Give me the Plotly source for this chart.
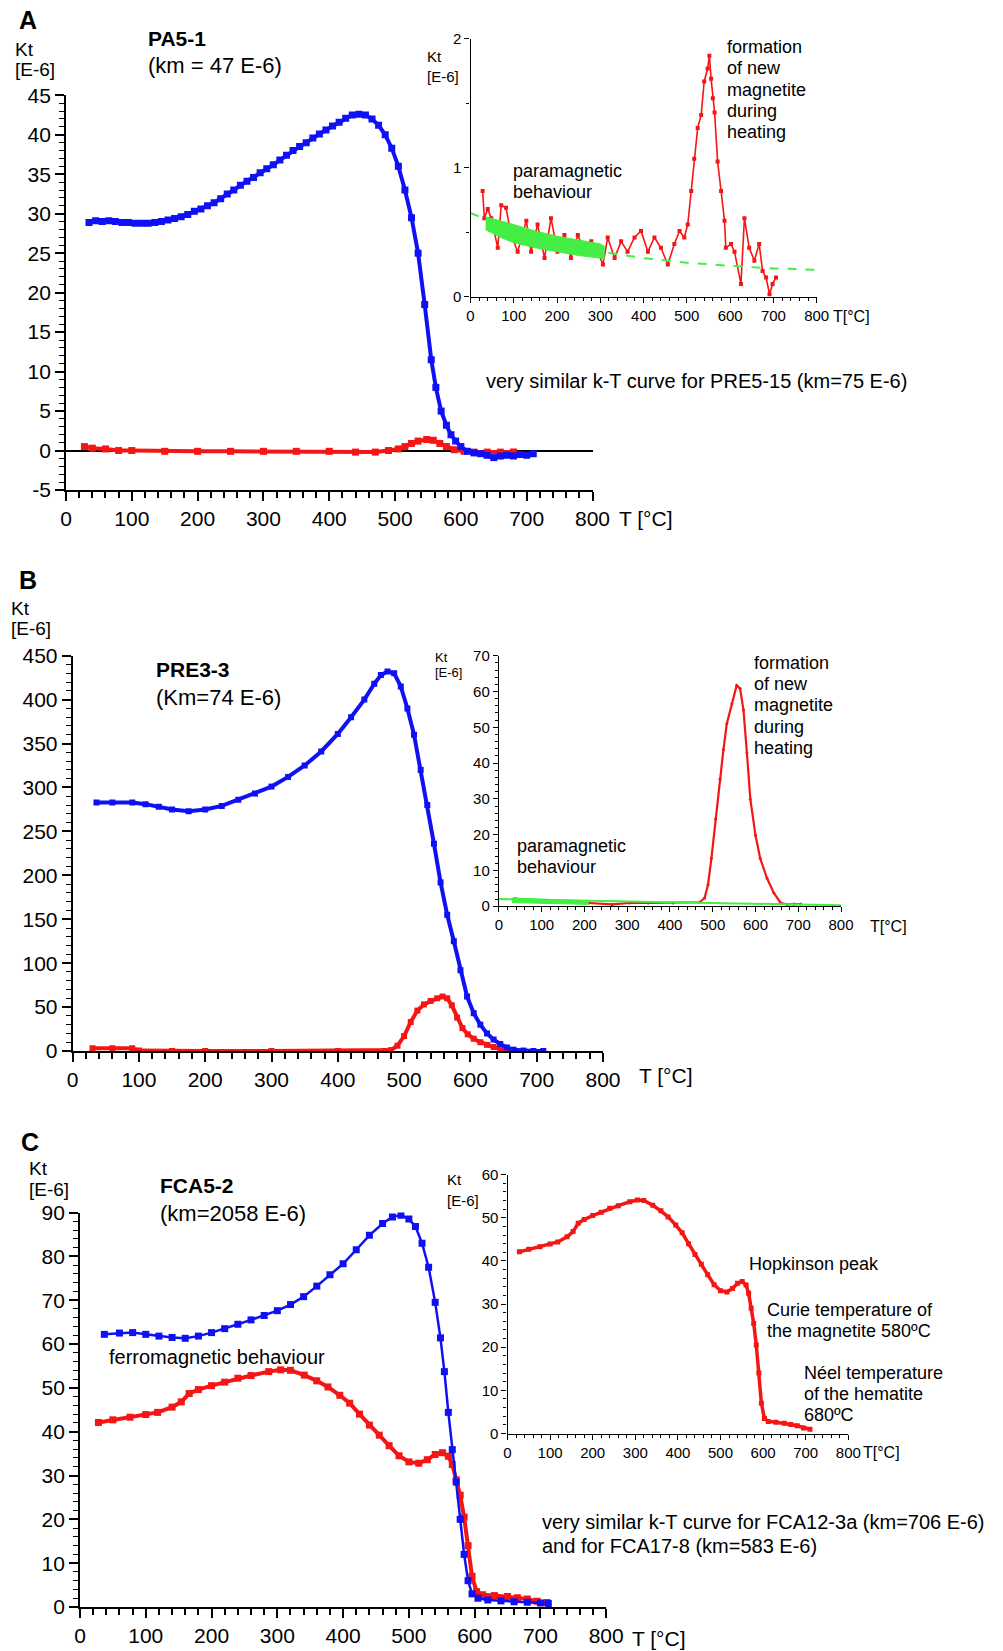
import plotly.graph_objects as go

W, H = 1003, 1651
FONT = "Liberation Sans, Arial, sans-serif"
BLUE = "#1010f5"
RED = "#f51515"
GREEN = "#44ee44"

# ---------------- Panel A (PA5-1) ----------------
A_blue_T = [35, 45, 55, 65, 75, 85, 95, 105, 115, 125, 135, 145, 155, 165, 175, 185, 195, 205, 215, 225,
            235, 245, 255, 265, 275, 285, 295, 305, 315, 325, 335, 345, 355, 365, 375, 385, 395, 405, 415,
            425, 435, 445, 455, 465, 475, 485, 495, 505, 515, 525, 535, 545, 555, 562, 570, 578, 585, 592,
            600, 610, 620, 630, 640, 650, 660, 670, 680, 690, 700, 710]
A_blue_K = [28.9, 29.1, 29.0, 29.1, 29.0, 28.9, 28.9, 28.8, 28.8, 28.8, 28.9, 29.0, 29.2, 29.4, 29.6, 29.9,
            30.3, 30.6, 31.0, 31.4, 31.9, 32.5, 33.0, 33.6, 34.1, 34.6, 35.2, 35.7, 36.2, 36.8, 37.4, 38.0,
            38.5, 39.0, 39.6, 40.1, 40.6, 41.1, 41.6, 42.1, 42.5, 42.6, 42.5, 42.0, 41.2, 40.0, 38.3, 36.0,
            33.0, 29.5, 25.0, 18.5, 11.5, 8.0, 5.0, 3.2, 2.0, 1.2, 0.5, -0.1, -0.3, -0.4, -0.6, -0.9, -0.7,
            -0.6, -0.7, -0.5, -0.6, -0.4]
A_red_T = [28, 40, 60, 80, 100, 150, 200, 250, 300, 350, 400, 440, 470, 490, 505, 515, 525, 535, 548,
           558, 568, 578, 590, 605, 620, 640, 660, 680]
A_red_K = [0.5, 0.3, 0.2, 0.0, 0.0, -0.1, -0.1, -0.1, -0.1, -0.1, -0.1, -0.2, -0.2, 0.0, 0.2, 0.5, 0.9,
           1.2, 1.4, 1.3, 0.9, 0.5, 0.1, -0.1, -0.2, -0.2, -0.2, -0.2]
A_yticks = [-5, 0, 5, 10, 15, 20, 25, 30, 35, 40, 45]
A_yticklabels = ["-5", "0", "5", "10", "15", "20", "25", "30", "35", "40", "45"]

# inset A
Ai_red_T = [28, 32, 40, 48, 63, 71, 82, 94, 109, 129, 140, 155, 171, 186, 201, 217, 232, 248, 263, 279,
            294, 306, 317, 333, 348, 363, 379, 394, 410, 425, 440, 456, 471, 483, 494, 502, 510, 517, 525,
            533, 540, 548, 552, 556, 560, 564, 571, 579, 587, 590, 602, 610, 625, 633, 644, 656, 667, 675,
            683, 691, 698, 706]
Ai_red_K = [0.82, 0.61, 0.68, 0.61, 0.38, 0.71, 0.69, 0.48, 0.35, 0.59, 0.35, 0.56, 0.30, 0.61, 0.35, 0.48,
            0.30, 0.48, 0.35, 0.43, 0.35, 0.25, 0.46, 0.30, 0.43, 0.35, 0.46, 0.51, 0.35, 0.46, 0.38, 0.25,
            0.41, 0.51, 0.46, 0.56, 0.82, 1.07, 1.31, 1.41, 1.67, 1.77, 1.87, 1.69, 1.54, 1.43, 1.05, 0.82,
            0.59, 0.38, 0.41, 0.35, 0.10, 0.61, 0.38, 0.28, 0.41, 0.20, 0.15, 0.02, 0.10, 0.15]
Ai_fit_T = [0, 100, 200, 300, 400, 500, 600, 700, 800]
Ai_fit_K = [0.65, 0.51, 0.42, 0.35, 0.30, 0.265, 0.24, 0.22, 0.21]
Ai_band_T = [35, 70, 100, 150, 200, 250, 300, 310]
Ai_band_hi = [0.62, 0.59, 0.56, 0.51, 0.47, 0.44, 0.41, 0.39]
Ai_band_lo = [0.52, 0.46, 0.42, 0.38, 0.35, 0.32, 0.30, 0.29]

# ---------------- Panel B (PRE3-3) ----------------
B_blue_T = [36, 60, 90, 110, 130, 150, 175, 200, 225, 250, 275, 300, 325, 350, 375, 400, 420, 440, 455,
            465, 475, 485, 495, 505, 515, 525, 535, 545, 555, 565, 575, 585, 595, 605, 615, 625, 635, 645,
            655, 665, 680, 695, 710]
B_blue_K = [283, 283, 283, 281, 278, 275, 273, 275, 279, 286, 293, 301, 312, 325, 341, 361, 380, 400, 418,
            428, 432, 430, 415, 390, 360, 320, 280, 236, 192, 155, 125, 92, 62, 43, 30, 20, 13, 8, 4, 1.5,
            0.5, 0, 0]
B_red_T = [30, 60, 90, 100, 150, 200, 300, 400, 470, 480, 490, 500, 510, 520, 530, 540, 550, 558, 565,
           572, 580, 588, 596, 605, 615, 625, 635, 645, 655]
B_red_K = [3, 3, 3, 0.5, 0, 0, 0, 0, 0, 1, 6, 17, 33, 46, 53, 57, 60, 62, 60, 52, 38, 26, 19, 14, 10, 7,
           4.5, 2, 0.5]

# inset B
Bi_red_T = [37, 92, 150, 210, 265, 305, 350, 407, 470, 481, 489, 497, 507, 517, 525, 533, 545, 556, 564,
            572, 580, 588, 600, 611, 627, 643, 659, 674, 690, 706]
Bi_red_K = [2.1, 1.4, 1.1, 0.9, 0.5, 0.9, 0.9, 0.9, 1.1, 2.3, 6.0, 13.4, 24.4, 35.5, 43.7, 51.0, 56.6,
            61.7, 60.8, 54.8, 42.8, 29.9, 19.8, 13.4, 7.8, 3.7, 0.9, 0.5, 0.6, 0.6]
Bi_fit_T = [0, 800]
Bi_fit_K = [2.0, 0.25]
Bi_band_T = [30, 100, 150, 210]
Bi_band_hi = [2.3, 2.0, 1.8, 1.5]
Bi_band_lo = [1.0, 0.8, 0.6, 0.5]

# ---------------- Panel C (FCA5-2) ----------------
C_blue_T = [37, 60, 80, 100, 120, 140, 160, 180, 200, 220, 240, 260, 280, 300, 320, 340, 360, 380, 400,
            420, 440, 460, 475, 488, 500, 510, 520, 530, 540, 548, 554, 560, 566, 572, 578, 584, 590, 596,
            605, 620, 640, 660, 680, 700, 712]
C_blue_K = [62.2, 62.5, 62.6, 62.2, 61.8, 61.5, 61.3, 61.8, 62.6, 63.5, 64.5, 65.5, 66.5, 67.6, 69.0,
            70.8, 73.2, 75.8, 78.3, 81.5, 84.8, 87.5, 89.0, 89.4, 88.5, 86.8, 83.0, 77.5, 69.5, 61.4, 53.7,
            44.4, 35.9, 28.5, 20.0, 12.0, 6.0, 3.0, 2.0, 1.6, 1.4, 1.2, 1.1, 0.9, 0.8]
C_red_T = [28, 50, 76, 100, 118, 140, 154, 166, 180, 200, 220, 240, 260, 287, 305, 320, 341, 360, 377,
           395, 410, 425, 440, 455, 470, 485, 500, 515, 528, 540, 551, 560, 566, 572, 578, 584, 590, 596,
           603, 612, 630, 650, 665, 680, 695, 710]
C_red_K = [42.1, 42.7, 43.3, 43.9, 44.4, 45.6, 46.8, 48.7, 49.6, 50.5, 51.3, 52.2, 52.8, 53.7, 54.1, 54.0,
           52.9, 51.6, 50.2, 48.3, 46.5, 44.0, 41.5, 39.2, 36.8, 34.5, 33.1, 32.8, 33.6, 34.8, 35.2, 34.4,
           32.5, 29.0, 25.5, 20.5, 14.0, 7.0, 3.5, 2.8, 2.6, 2.4, 2.1, 1.8, 1.3, 1.0]

X_TICKS = [0, 100, 200, 300, 400, 500, 600, 700, 800]


def px(x):
    return x / W


def py(y):
    return 1 - y / H


fig = go.Figure()


def axis_pair(n, xdom, ydom, yrange, ydtick, yminor, fs, main):
    sx = "" if n == 1 else str(n)
    lw = 1.8 if main else 1.3
    common = dict(showline=True, linecolor="black", linewidth=lw, ticks="outside", tickcolor="black",
                  tickwidth=lw, showgrid=False, zeroline=False, automargin=False,
                  tickfont=dict(family=FONT, size=fs, color="black"))
    fig.layout["xaxis" + sx] = dict(domain=xdom, range=[0, 800], tickvals=X_TICKS, ticklen=9 if main else 5,
                                    anchor="y" + sx,
                                    minor=dict(dtick=20, ticklen=6 if main else 3, ticks="outside",
                                               tickcolor="black", tickwidth=lw),
                                    **common)
    fig.layout["yaxis" + sx] = dict(domain=ydom, range=yrange, dtick=ydtick, tick0=0,
                                    ticklen=9 if main else 5, anchor="x" + sx,
                                    minor=dict(dtick=yminor, ticklen=5 if main else 3, ticks="outside",
                                               tickcolor="black", tickwidth=lw * 0.8),
                                    **common)


# domains (pixel positions)
axis_pair(1, [px(66), px(592.5)], [py(490), py(95.3)], [-5, 45], 5, 1, 21, True)
axis_pair(2, [px(470.5), px(816.7)], [py(296.8), py(38.9)], [0, 2], 1, 0.5, 15, False)
axis_pair(3, [px(72.6), px(603)], [py(1051), py(655.7)], [0, 450], 50, 10, 21, True)
axis_pair(4, [px(498.9), px(841)], [py(906.2), py(655.7)], [0, 70], 10, 2, 15, False)
axis_pair(5, [px(80), px(606.2)], [py(1607), py(1212.5)], [0, 90], 10, 2, 21, True)
axis_pair(6, [px(507.5), px(848.3)], [py(1433.5), py(1174.6)], [0, 60], 10, 2, 15, False)

fig.layout.yaxis.update(zeroline=True, zerolinecolor="black", zerolinewidth=1.5,
                        tickvals=A_yticks, ticktext=A_yticklabels)


def curve(x, y, color, ax, lw=4, ms=7, symbol="square"):
    sx = "" if ax == 1 else str(ax)
    fig.add_trace(go.Scatter(x=x, y=y, mode="lines+markers", xaxis="x" + sx, yaxis="y" + sx,
                             line=dict(color=color, width=lw),
                             marker=dict(color=color, size=ms, symbol=symbol), showlegend=False,
                             hoverinfo="skip"))


def band(x, lo, hi, color, ax):
    sx = str(ax)
    fig.add_trace(go.Scatter(x=x, y=lo, mode="lines", xaxis="x" + sx, yaxis="y" + sx,
                             line=dict(color=color, width=1), showlegend=False, hoverinfo="skip"))
    fig.add_trace(go.Scatter(x=x, y=hi, mode="lines", xaxis="x" + sx, yaxis="y" + sx, fill="tonexty",
                             fillcolor=color, line=dict(color=color, width=1), showlegend=False,
                             hoverinfo="skip"))


# Panel A
curve(A_red_T, A_red_K, RED, 1, lw=4, ms=7)
curve(A_blue_T, A_blue_K, BLUE, 1, lw=4, ms=7)
curve(Ai_red_T, Ai_red_K, RED, 2, lw=1.6, ms=4)
fig.add_trace(go.Scatter(x=Ai_fit_T, y=Ai_fit_K, mode="lines", xaxis="x2", yaxis="y2",
                         line=dict(color=GREEN, width=2, dash="dash"), showlegend=False, hoverinfo="skip"))
band(Ai_band_T, Ai_band_lo, Ai_band_hi, GREEN, 2)

# Panel B
curve(B_red_T, B_red_K, RED, 3, lw=4, ms=6)
curve(B_blue_T, B_blue_K, BLUE, 3, lw=4, ms=6)
curve(Bi_red_T, Bi_red_K, RED, 4, lw=2.2, ms=3, symbol="circle")
fig.add_trace(go.Scatter(x=Bi_fit_T, y=Bi_fit_K, mode="lines", xaxis="x4", yaxis="y4",
                         line=dict(color=GREEN, width=2), showlegend=False, hoverinfo="skip"))
band(Bi_band_T, Bi_band_lo, Bi_band_hi, GREEN, 4)

# Panel C
curve(C_red_T, C_red_K, RED, 5, lw=4, ms=7)
curve(C_blue_T, C_blue_K, BLUE, 5, lw=2.5, ms=7)
curve(C_red_T, C_red_K, RED, 6, lw=3.5, ms=5)


def text(x, y, s, size, bold=False, anchor="left"):
    fig.add_annotation(x=px(x), y=py(y), xref="paper", yref="paper", text=("<b>%s</b>" % s) if bold else s,
                       showarrow=False, xanchor=anchor, yanchor="middle", align="left",
                       font=dict(family=FONT, size=size, color="black"))


def lines(x, y0, step, items, size):
    for i, s in enumerate(items):
        text(x, y0 + i * step, s, size)


# Panel A labels
text(17, 20, "A", 25, bold=True)
lines(13, 49.5, 20.5, ["Kt", "[E-6]"], 19)
text(146, 39, "PA5-1", 21, bold=True)
text(146, 65, "(km = 47 E-6)", 22)
lines(425, 57, 19, ["Kt", "[E-6]"], 15)
lines(511, 170.5, 21, ["paramagnetic", "behaviour"], 18)
lines(725, 47.4, 21.05, ["formation", "of new", "magnetite", "during", "heating"], 18)
text(831, 316, "T[°C]", 16)
text(484, 381, "very similar k-T curve for PRE5-15 (km=75 E-6)", 20)
text(617, 518, "T [°C]", 21)

# Panel B labels
text(17, 580, "B", 25, bold=True)
lines(9, 608, 20, ["Kt", "[E-6]"], 19)
text(154, 669, "PRE3-3", 21, bold=True)
text(154, 697, "(Km=74 E-6)", 22)
lines(433, 657, 15, ["Kt", "[E-6]"], 13)
lines(515, 846, 21, ["paramagnetic", "behaviour"], 18)
lines(752, 663, 21.2, ["formation", "of new", "magnetite", "during", "heating"], 18)
text(868, 926, "T[°C]", 16)
text(637, 1075, "T [°C]", 21)

# Panel C labels
text(19, 1142, "C", 25, bold=True)
lines(27, 1168, 21, ["Kt", "[E-6]"], 19)
text(158, 1185, "FCA5-2", 21, bold=True)
text(158, 1213, "(km=2058 E-6)", 22)
text(107, 1357, "ferromagnetic behaviour", 20)
lines(445, 1179, 21, ["Kt", "[E-6]"], 15)
text(747, 1264, "Hopkinson peak", 18)
lines(765, 1310.4, 21, ["Curie temperature of", "the magnetite 580ºC"], 18)
lines(802, 1372.5, 21, ["Néel temperature", "of the hematite", "680ºC"], 18)
text(861, 1452, "T[°C]", 16)
lines(540, 1522, 24, ["very similar k-T curve for FCA12-3a (km=706 E-6)", "and for FCA17-8 (km=583 E-6)"], 20)
text(630, 1638, "T [°C]", 21)

fig.update_layout(width=W, height=H, margin=dict(l=0, r=0, t=0, b=0), paper_bgcolor="white",
                  plot_bgcolor="rgba(0,0,0,0)", showlegend=False)
fig.write_html("out.html", config={"displayModeBar": False},
               post_script="document.body.style.margin='0px';document.body.style.padding='0px';")
